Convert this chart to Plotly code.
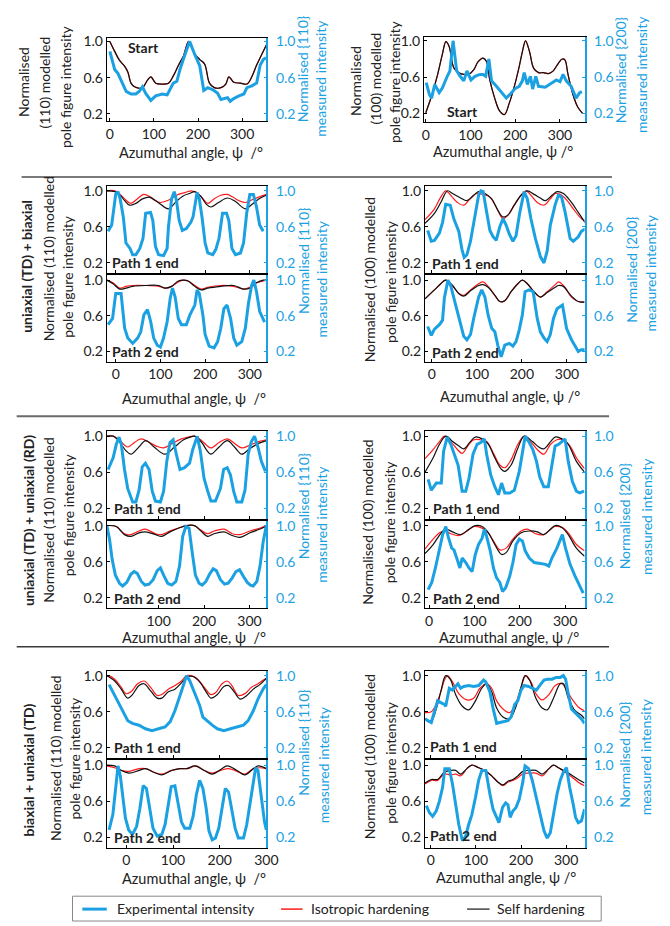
import plotly.graph_objects as go

W, H = 670, 926
BLUE = '#1BA1E2'
RED = '#FF1A1A'
BLACK = '#111111'
FONT = 'Lato'
TXT = '#222222'

# ---------------- data: (angle deg, normalised intensity) ----------------
# Row 1 - starting texture
A_iso = [(0,1.0),(11,0.89),(22,0.79),(33,0.73),(41,0.66),(48,0.54),(56,0.50),(74,0.49),(85,0.57),(93,0.61),(104,0.54),(119,0.53),(133,0.54),(144,0.62),(156,0.74),(167,0.84),(179,1.0),(193,0.86),(204,0.80),(215,0.75),(226,0.54),(237,0.49),(252,0.49),(263,0.53),(270,0.61),(281,0.55),(296,0.54),(311,0.53),(322,0.61),(333,0.74),(344,0.85),(355,0.96)]
A_self = [(0,1.0),(11,0.89),(22,0.79),(33,0.73),(41,0.66),(48,0.54),(56,0.50),(74,0.49),(85,0.57),(93,0.61),(104,0.54),(119,0.53),(133,0.54),(144,0.62),(156,0.74),(167,0.84),(179,1.0),(193,0.86),(204,0.80),(215,0.75),(226,0.54),(237,0.49),(252,0.49),(263,0.53),(270,0.61),(281,0.55),(296,0.54),(311,0.53),(322,0.61),(333,0.74),(344,0.85),(355,0.96)]
A_exp = [(0,0.89),(11,0.69),(18,0.65),(26,0.56),(37,0.45),(48,0.42),(59,0.42),(67,0.45),(74,0.50),(81,0.43),(93,0.35),(104,0.40),(119,0.42),(130,0.41),(137,0.47),(144,0.54),(152,0.56),(159,0.69),(170,0.85),(181,1.0),(193,0.85),(204,0.73),(213,0.46),(222,0.49),(233,0.47),(244,0.43),(252,0.36),(259,0.37),(267,0.38),(273,0.34),(281,0.37),(293,0.40),(304,0.42),(311,0.49),(322,0.51),(333,0.54),(341,0.74),(348,0.80),(354,0.82)]

B_iso = [(0,0.21),(12,0.38),(26,0.62),(37,0.85),(45,0.99),(52,0.94),(63,0.70),(74,0.65),(85,0.63),(96,0.63),(107,0.68),(117,0.77),(128,0.81),(136,0.77),(143,0.57),(154,0.37),(165,0.23),(176,0.19),(187,0.32),(198,0.50),(209,0.72),(216,0.88),(223,1.0),(232,0.88),(241,0.70),(252,0.65),(263,0.65),(274,0.64),(285,0.67),(296,0.75),(305,0.80),(311,0.79),(318,0.63),(329,0.41),(340,0.27),(351,0.20)]
B_self = [(0,0.21),(12,0.38),(26,0.62),(37,0.85),(45,0.99),(52,0.94),(63,0.70),(74,0.65),(85,0.63),(96,0.63),(107,0.68),(117,0.77),(128,0.81),(136,0.77),(143,0.57),(154,0.37),(165,0.23),(176,0.19),(187,0.32),(198,0.50),(209,0.72),(216,0.88),(223,1.0),(232,0.88),(241,0.70),(252,0.65),(263,0.65),(274,0.64),(285,0.67),(296,0.75),(305,0.80),(311,0.79),(318,0.63),(329,0.41),(340,0.27),(351,0.20)]
B_exp = [(1,0.54),(8,0.41),(13,0.37),(20,0.52),(30,0.43),(37,0.48),(48,0.61),(54,0.67),(61,1.0),(69,0.67),(77,0.61),(85,0.56),(92,0.67),(101,0.57),(110,0.61),(121,0.63),(128,0.63),(134,0.61),(141,0.80),(147,0.56),(158,0.50),(169,0.43),(180,0.37),(190,0.42),(201,0.48),(209,0.50),(216,0.56),(220,0.65),(227,0.52),(234,0.61),(239,0.47),(246,0.61),(252,0.50),(267,0.49),(282,0.54),(292,0.57),(300,0.55),(307,0.63),(314,0.56),(325,0.50),(336,0.37),(344,0.43),(349,0.44)]

# Row 2 - uniaxial (TD) + biaxial
C_iso = [(-20,1.0),(-2,1.0),(10,0.96),(20,0.91),(34,0.86),(48,0.91),(63,0.96),(78,0.93),(89,0.89),(100,0.87),(115,0.89),(130,0.93),(140,0.96),(155,0.98),(169,1.0),(180,0.98),(192,0.93),(206,0.86),(220,0.91),(235,0.95),(249,0.96),(262,0.93),(276,0.89),(290,0.87),(305,0.90),(320,0.93),(337,0.96)]
C_self = [(-20,1.0),(-2,0.99),(10,0.95),(20,0.89),(31,0.84),(45,0.86),(60,0.91),(75,0.93),(95,0.87),(118,0.80),(135,0.88),(150,0.94),(165,0.97),(177,0.99),(190,0.94),(203,0.85),(213,0.82),(230,0.87),(250,0.92),(268,0.88),(290,0.80),(305,0.85),(320,0.91),(337,0.95)]
C_exp = [(-17,0.55),(-9,0.62),(0,0.96),(5,0.99),(10,0.91),(17,0.71),(23,0.42),(32,0.36),(38,0.29),(45,0.29),(54,0.36),(61,0.47),(67,0.75),(78,0.76),(83,0.67),(89,0.38),(96,0.29),(107,0.28),(115,0.36),(118,0.60),(125,0.91),(131,0.99),(136,0.89),(142,0.67),(149,0.56),(158,0.58),(168,0.65),(173,0.71),(182,0.98),(187,0.91),(193,0.71),(200,0.42),(206,0.31),(217,0.29),(224,0.35),(231,0.47),(239,0.75),(248,0.75),(253,0.67),(260,0.36),(268,0.29),(279,0.31),(286,0.42),(293,0.75),(300,0.96),(308,0.96),(315,0.82),(322,0.62),(330,0.55)]

D_iso = [(-20,1.0),(-6,0.97),(9,0.91),(23,0.93),(38,0.94),(67,0.94),(96,0.93),(111,0.91),(125,0.93),(140,0.98),(151,1.0),(162,0.99),(177,0.94),(191,0.90),(206,0.92),(235,0.94),(264,0.93),(286,0.90),(300,0.92),(315,0.97),(330,0.99),(337,1.0)]
D_self = [(-20,1.0),(-6,0.96),(9,0.90),(23,0.91),(38,0.93),(67,0.94),(96,0.94),(111,0.91),(125,0.93),(140,0.99),(151,1.0),(162,0.99),(177,0.93),(191,0.89),(206,0.91),(235,0.93),(264,0.94),(286,0.90),(300,0.91),(315,0.97),(330,1.0),(337,1.0)]
D_exp = [(-17,0.50),(-7,0.57),(0,0.85),(12,0.85),(20,0.46),(27,0.35),(38,0.29),(49,0.35),(56,0.42),(63,0.61),(71,0.67),(78,0.54),(85,0.35),(93,0.27),(100,0.25),(107,0.35),(115,0.53),(122,0.80),(127,0.91),(133,0.81),(140,0.57),(147,0.50),(158,0.50),(166,0.61),(177,0.72),(182,0.89),(187,0.85),(195,0.61),(200,0.39),(209,0.26),(220,0.24),(228,0.31),(235,0.46),(242,0.68),(249,0.72),(257,0.57),(264,0.35),(271,0.27),(282,0.31),(290,0.46),(297,0.74),(304,0.94),(309,1.0),(315,0.87),(322,0.65),(333,0.53)]

E_iso = [(-15,0.68),(6,0.80),(20,0.93),(31,1.0),(42,0.95),(57,0.87),(71,0.84),(85,0.91),(100,0.97),(114,0.96),(129,0.93),(143,0.82),(158,0.69),(169,0.73),(183,0.84),(198,0.95),(209,1.0),(220,0.95),(234,0.87),(249,0.84),(263,0.91),(274,0.97),(285,0.96),(299,0.90),(314,0.80),(332,0.69),(341,0.67)]
E_self = [(-15,0.64),(6,0.75),(20,0.87),(35,1.0),(46,0.97),(64,0.92),(78,0.89),(93,0.95),(104,0.99),(118,0.97),(133,0.91),(147,0.78),(158,0.71),(169,0.73),(183,0.84),(198,0.95),(212,1.0),(227,0.96),(241,0.92),(252,0.89),(267,0.95),(278,0.99),(292,0.97),(307,0.89),(325,0.76),(341,0.64)]
E_exp = [(-9,0.56),(-1,0.44),(6,0.45),(17,0.53),(24,0.65),(31,0.85),(41,0.84),(49,0.69),(60,0.55),(67,0.35),(72,0.26),(78,0.29),(86,0.44),(93,0.65),(104,0.95),(109,1.0),(114,0.99),(122,0.76),(129,0.56),(136,0.49),(143,0.45),(151,0.60),(158,0.69),(165,0.62),(172,0.52),(180,0.44),(187,0.50),(195,0.75),(205,0.99),(212,0.91),(220,0.69),(230,0.47),(241,0.27),(249,0.20),(256,0.33),(263,0.62),(274,0.85),(281,0.95),(288,0.93),(296,0.76),(307,0.47),(314,0.44),(325,0.49),(332,0.55),(341,0.58)]

F_iso = [(-15,0.79),(6,0.89),(20,0.96),(31,1.0),(46,0.94),(60,0.85),(71,0.83),(86,0.89),(104,0.96),(114,0.98),(125,0.93),(140,0.83),(151,0.76),(162,0.77),(176,0.87),(191,0.96),(201,1.0),(212,0.96),(227,0.87),(241,0.81),(256,0.87),(274,0.95),(281,0.98),(292,0.94),(310,0.81),(325,0.76),(339,0.76)]
F_self = [(-15,0.79),(6,0.89),(20,0.96),(31,1.0),(46,0.94),(60,0.85),(71,0.82),(86,0.88),(104,0.94),(114,0.95),(125,0.92),(140,0.83),(151,0.76),(162,0.77),(176,0.87),(191,0.96),(201,1.0),(212,0.96),(227,0.87),(241,0.81),(256,0.86),(274,0.92),(281,0.94),(292,0.93),(310,0.82),(325,0.76),(339,0.75)]
F_exp = [(-9,0.48),(-1,0.38),(6,0.45),(17,0.50),(24,0.55),(28,0.80),(36,1.0),(42,0.94),(49,0.80),(57,0.65),(64,0.50),(71,0.37),(78,0.33),(86,0.39),(93,0.57),(104,0.81),(111,0.89),(118,0.81),(125,0.61),(133,0.46),(140,0.42),(147,0.26),(154,0.14),(162,0.27),(172,0.29),(180,0.26),(187,0.31),(194,0.44),(201,0.61),(207,0.87),(216,0.89),(225,0.87),(234,0.57),(241,0.42),(249,0.35),(256,0.31),(263,0.39),(270,0.57),(278,0.68),(285,0.70),(290,0.72),(299,0.46),(310,0.33),(317,0.27),(325,0.20),(332,0.22),(341,0.22)]

# Row 3 - uniaxial (TD) + uniaxial (RD)
G_iso = [(-14,1.0),(0,1.0),(15,0.95),(32,0.88),(47,0.93),(61,0.97),(80,0.93),(95,0.89),(111,0.87),(130,0.92),(150,0.97),(165,0.99),(179,1.0),(195,0.95),(215,0.87),(233,0.93),(251,0.97),(267,0.92),(283,0.87),(300,0.90),(320,0.94),(337,0.96)]
G_self = [(-14,1.0),(0,1.0),(15,0.93),(28,0.84),(39,0.80),(55,0.87),(72,0.95),(90,0.88),(114,0.80),(135,0.88),(155,0.96),(170,0.99),(179,1.0),(195,0.93),(205,0.85),(215,0.80),(233,0.88),(251,0.95),(267,0.88),(283,0.80),(300,0.86),(320,0.92),(337,0.95)]
G_exp = [(-11,0.63),(0,0.76),(7,0.91),(13,0.99),(18,0.91),(25,0.63),(32,0.42),(43,0.27),(50,0.27),(57,0.40),(64,0.66),(71,0.70),(79,0.63),(86,0.39),(93,0.28),(104,0.27),(111,0.39),(118,0.72),(125,0.93),(132,0.96),(139,0.80),(147,0.63),(157,0.65),(168,0.70),(175,0.85),(185,1.0),(192,0.83),(200,0.53),(208,0.39),(215,0.28),(225,0.28),(236,0.42),(243,0.63),(251,0.65),(258,0.57),(265,0.39),(272,0.27),(283,0.27),(290,0.40),(297,0.80),(304,0.94),(311,1.0),(319,0.87),(326,0.72),(335,0.61)]

H_iso = [(-14,1.0),(7,0.99),(25,0.91),(39,0.90),(57,0.94),(71,0.96),(93,0.91),(107,0.90),(125,0.94),(143,0.97),(161,1.0),(179,1.0),(193,0.95),(208,0.91),(222,0.94),(244,0.96),(262,0.91),(279,0.90),(301,0.94),(322,0.97),(337,1.0)]
H_self = [(-14,1.0),(7,0.99),(25,0.90),(39,0.88),(57,0.92),(71,0.93),(93,0.90),(107,0.88),(125,0.93),(143,0.97),(161,1.0),(179,1.0),(193,0.94),(208,0.88),(222,0.91),(244,0.93),(262,0.89),(279,0.87),(301,0.92),(322,0.96),(337,0.99)]
H_exp = [(-14,1.0),(-8,0.85),(-2,0.62),(5,0.45),(14,0.36),(21,0.33),(30,0.37),(39,0.46),(46,0.49),(53,0.47),(62,0.38),(70,0.34),(79,0.35),(88,0.40),(97,0.50),(104,0.53),(111,0.45),(120,0.36),(129,0.34),(138,0.38),(146,0.55),(153,0.88),(160,0.99),(167,0.97),(174,0.70),(181,0.45),(189,0.36),(196,0.34),(204,0.38),(212,0.46),(220,0.52),(227,0.50),(236,0.40),(245,0.35),(253,0.36),(262,0.42),(270,0.49),(278,0.51),(286,0.44),(295,0.37),(302,0.34),(308,0.33),(316,0.38),(323,0.55),(330,0.82),(337,1.0)]

I_iso = [(-9,0.75),(9,0.85),(23,0.94),(34,1.0),(48,0.94),(63,0.85),(73,0.81),(88,0.91),(99,0.96),(113,0.96),(127,0.94),(142,0.81),(156,0.68),(167,0.65),(181,0.74),(196,0.91),(210,1.0),(224,0.94),(239,0.85),(253,0.80),(268,0.91),(282,0.96),(296,0.96),(311,0.89),(325,0.76),(343,0.64)]
I_self = [(-9,0.60),(9,0.76),(23,0.91),(37,1.0),(52,0.94),(66,0.89),(77,0.86),(91,0.94),(102,0.99),(117,0.97),(131,0.91),(145,0.76),(160,0.63),(167,0.61),(181,0.68),(196,0.87),(210,1.0),(228,0.94),(242,0.88),(253,0.86),(268,0.94),(278,0.99),(293,0.97),(307,0.91),(325,0.72),(343,0.60)]
I_exp = [(-2,0.52),(5,0.40),(16,0.48),(27,0.48),(32,0.83),(40,0.99),(48,0.91),(55,0.80),(64,0.68),(73,0.39),(81,0.39),(88,0.53),(97,0.80),(106,0.91),(114,0.93),(122,0.97),(127,0.80),(136,0.57),(145,0.44),(153,0.35),(160,0.48),(167,0.37),(178,0.37),(188,0.40),(199,0.61),(212,1.0),(221,0.93),(229,0.85),(237,0.72),(244,0.55),(253,0.44),(263,0.44),(271,0.68),(278,0.89),(286,0.91),(294,0.94),(300,0.97),(307,0.72),(316,0.50),(325,0.39),(332,0.37),(342,0.39)]

J_iso = [(-9,0.74),(9,0.85),(23,0.92),(34,0.94),(48,0.91),(66,0.89),(84,0.94),(99,0.99),(113,0.98),(127,0.94),(142,0.83),(156,0.73),(170,0.75),(185,0.85),(203,0.94),(217,0.96),(235,0.91),(253,0.90),(268,0.96),(278,0.99),(293,0.98),(307,0.92),(325,0.79),(343,0.72)]
J_self = [(-9,0.69),(9,0.79),(27,0.92),(37,0.96),(52,0.93),(70,0.90),(88,0.96),(102,1.0),(117,0.99),(131,0.92),(145,0.79),(160,0.68),(170,0.70),(185,0.83),(203,0.92),(221,0.94),(239,0.93),(253,0.90),(268,0.96),(278,1.0),(293,0.98),(307,0.90),(325,0.75),(343,0.66)]
J_exp = [(-2,0.29),(6,0.37),(14,0.53),(23,0.72),(30,0.90),(37,0.99),(42,0.88),(50,0.75),(55,0.73),(63,0.61),(68,0.53),(73,0.64),(81,0.59),(88,0.53),(95,0.49),(102,0.68),(109,0.79),(117,0.86),(122,0.96),(127,0.88),(135,0.72),(142,0.53),(149,0.42),(156,0.37),(162,0.27),(169,0.31),(178,0.44),(185,0.59),(192,0.79),(199,0.85),(206,0.83),(212,0.72),(221,0.64),(232,0.59),(246,0.58),(257,0.57),(264,0.55),(271,0.64),(282,0.75),(289,0.85),(294,0.90),(301,0.75),(311,0.57),(322,0.44),(330,0.35),(340,0.25)]

# Row 4 - biaxial + uniaxial (TD)
K_iso = [(-42,1.0),(-39,1.0),(-25,0.96),(-11,0.87),(-1,0.80),(10,0.82),(24,0.91),(38,0.94),(52,0.87),(66,0.78),(76,0.79),(90,0.85),(104,0.89),(118,0.94),(129,1.0),(139,1.0),(153,0.96),(167,0.87),(181,0.79),(191,0.81),(205,0.91),(216,0.94),(226,0.89),(240,0.78),(254,0.80),(268,0.87),(282,0.91),(296,0.96),(300,0.97)]
K_self = [(-42,1.0),(-39,0.99),(-25,0.94),(-11,0.85),(3,0.75),(13,0.79),(27,0.89),(38,0.91),(52,0.83),(66,0.75),(76,0.75),(90,0.82),(104,0.85),(118,0.92),(132,0.99),(143,0.99),(157,0.93),(171,0.82),(181,0.75),(195,0.79),(209,0.88),(219,0.89),(231,0.82),(244,0.74),(258,0.78),(272,0.85),(286,0.90),(298,0.96),(300,0.97)]
K_exp = [(-37,0.90),(-29,0.82),(-18,0.71),(-8,0.60),(3,0.50),(13,0.47),(27,0.45),(41,0.41),(55,0.39),(69,0.41),(83,0.43),(94,0.49),(104,0.61),(115,0.78),(124,0.94),(129,1.0),(136,0.94),(146,0.82),(157,0.67),(164,0.54),(174,0.49),(184,0.45),(195,0.41),(209,0.39),(223,0.41),(237,0.43),(251,0.45),(261,0.50),(272,0.61),(282,0.74),(293,0.85),(300,0.90)]

L_iso = [(-42,0.99),(-25,0.97),(-11,0.94),(6,0.93),(27,0.96),(41,0.96),(59,0.92),(76,0.90),(97,0.94),(115,0.96),(132,0.96),(150,0.99),(167,0.94),(184,0.91),(202,0.94),(219,0.96),(237,0.93),(254,0.90),(272,0.96),(286,0.97),(300,0.96)]
L_self = [(-42,1.0),(-25,0.99),(-11,0.94),(6,0.91),(27,0.94),(41,0.96),(59,0.92),(76,0.89),(97,0.94),(115,0.96),(129,0.96),(147,0.99),(167,0.94),(184,0.90),(202,0.95),(216,0.99),(237,0.94),(254,0.89),(272,0.96),(283,0.99),(300,0.96)]
L_exp = [(-37,0.28),(-29,0.45),(-23,0.74),(-18,0.99),(-13,0.88),(-8,0.67),(-2,0.41),(5,0.28),(13,0.23),(22,0.32),(29,0.52),(36,0.77),(43,0.74),(50,0.52),(57,0.30),(66,0.21),(76,0.23),(83,0.34),(90,0.56),(96,0.76),(104,0.77),(111,0.59),(118,0.37),(125,0.30),(136,0.30),(143,0.43),(150,0.67),(157,0.83),(164,0.74),(171,0.52),(177,0.27),(184,0.17),(191,0.19),(198,0.30),(205,0.52),(212,0.74),(219,0.70),(226,0.52),(233,0.30),(240,0.19),(251,0.19),(258,0.34),(265,0.56),(272,0.81),(277,0.97),(282,0.94),(289,0.67),(296,0.37),(300,0.28)]

M_iso = [(-13,0.59),(1,0.60),(12,0.68),(22,0.82),(31,0.96),(37,1.0),(48,0.93),(62,0.80),(80,0.73),(95,0.75),(109,0.86),(124,0.91),(135,0.86),(146,0.72),(160,0.63),(175,0.59),(189,0.70),(200,0.87),(211,1.0),(222,0.93),(233,0.80),(247,0.73),(262,0.79),(276,0.89),(291,0.91),(301,0.84),(316,0.72),(330,0.64),(341,0.61)]
M_self = [(-13,0.52),(1,0.50),(12,0.63),(22,0.82),(33,1.0),(43,0.96),(55,0.79),(70,0.66),(84,0.62),(99,0.72),(113,0.86),(124,0.91),(135,0.82),(146,0.64),(160,0.54),(175,0.52),(189,0.66),(200,0.87),(209,1.0),(219,0.95),(233,0.75),(247,0.64),(258,0.62),(272,0.75),(287,0.91),(294,0.91),(305,0.75),(320,0.61),(334,0.56),(341,0.52)]
M_exp = [(-12,0.52),(-7,0.50),(1,0.48),(8,0.61),(15,0.72),(22,0.70),(30,0.68),(33,0.66),(41,0.86),(48,0.84),(55,0.88),(60,0.91),(66,0.86),(73,0.88),(84,0.89),(95,0.88),(106,0.89),(117,0.95),(122,0.93),(131,0.82),(138,0.64),(146,0.47),(153,0.48),(160,0.49),(171,0.50),(178,0.54),(186,0.68),(193,0.72),(200,0.84),(207,0.89),(217,0.88),(225,0.86),(234,0.84),(243,0.90),(251,0.95),(258,0.96),(269,0.96),(278,0.98),(287,0.98),(294,1.0),(299,0.96),(305,0.79),(312,0.63),(320,0.59),(327,0.56),(334,0.52),(341,0.47)]

N_iso = [(-13,0.79),(1,0.83),(15,0.83),(30,0.90),(44,0.89),(55,0.90),(66,0.88),(80,0.96),(91,1.0),(106,0.97),(120,0.94),(135,0.88),(149,0.81),(160,0.77),(171,0.81),(182,0.83),(193,0.86),(204,0.90),(218,0.91),(233,0.91),(247,0.88),(262,0.96),(272,1.0),(283,0.97),(298,0.92),(312,0.87),(327,0.81),(341,0.77)]
N_self = [(-13,0.80),(1,0.84),(15,0.84),(30,0.92),(44,0.94),(55,0.94),(66,0.90),(80,0.96),(91,1.0),(106,0.97),(120,0.94),(135,0.88),(149,0.81),(160,0.78),(171,0.82),(182,0.84),(193,0.88),(204,0.93),(218,0.94),(233,0.94),(247,0.90),(262,0.96),(272,1.0),(283,0.97),(298,0.93),(312,0.89),(327,0.84),(341,0.80)]
N_exp = [(-10,0.55),(-3,0.47),(4,0.43),(12,0.49),(19,0.60),(26,0.75),(31,0.96),(41,0.96),(48,0.79),(55,0.56),(62,0.34),(70,0.16),(77,0.21),(84,0.34),(91,0.45),(99,0.64),(106,0.83),(113,0.94),(122,0.94),(131,0.68),(138,0.51),(146,0.42),(151,0.36),(159,0.53),(166,0.58),(171,0.56),(176,0.42),(182,0.49),(189,0.53),(196,0.62),(204,0.81),(209,0.99),(217,0.96),(225,0.83),(234,0.64),(243,0.42),(251,0.27),(258,0.19),(265,0.25),(272,0.45),(280,0.68),(287,0.83),(294,0.92),(301,0.97),(308,0.75),(316,0.56),(321,0.42),(327,0.36),(334,0.38),(341,0.51)]

# ---------------- layout of panels (pixel geometry) ----------------
SUB_Y = [0.085, 1.055]
panels = [
    ('A', 107, 270, 33, 117, [-7, 355], [0.12, 1.04], [0, 100, 200, 300], True, A_iso, A_self, A_exp),
    ('B', 431, 595, 32, 118, [-4, 355], [0.105, 1.044], [0, 100, 200, 300], True, B_iso, B_self, B_exp),
    ('C', 107, 270, 182, 270, [-20, 337], SUB_Y, [0, 100, 200, 300], False, C_iso, C_self, C_exp),
    ('D', 107, 270, 272, 359, [-20, 337], SUB_Y, [0, 100, 200, 300], True, D_iso, D_self, D_exp),
    ('E', 432, 595, 182, 270, [-15, 339], SUB_Y, [0, 100, 200, 300], False, E_iso, E_self, E_exp),
    ('F', 432, 595, 272, 359, [-15, 339], SUB_Y, [0, 100, 200, 300], True, F_iso, F_self, F_exp),
    ('G', 107, 270, 429, 517, [-14, 337], SUB_Y, [100, 200, 300], False, G_iso, G_self, G_exp),
    ('H', 107, 270, 519, 607, [-14, 337], SUB_Y, [100, 200, 300], True, H_iso, H_self, H_exp),
    ('I', 432, 595, 429, 517, [-9, 343], SUB_Y, [0, 100, 200, 300], False, I_iso, I_self, I_exp),
    ('J', 432, 595, 519, 607, [-9, 343], SUB_Y, [0, 100, 200, 300], True, J_iso, J_self, J_exp),
    ('K', 107, 270, 670, 758, [-42, 300], SUB_Y, [0, 100, 200, 300], False, K_iso, K_self, K_exp),
    ('L', 107, 270, 760, 848, [-42, 300], SUB_Y, [0, 100, 200, 300], True, L_iso, L_self, L_exp),
    ('M', 432, 595, 670, 758, [-13, 341], SUB_Y, [0, 100, 200, 300], False, M_iso, M_self, M_exp),
    ('N', 432, 595, 760, 848, [-13, 341], SUB_Y, [0, 100, 200, 300], True, N_iso, N_self, N_exp),
]

def px(x):
    return x / W

def py(y):
    return 1 - y / H

TICK = 14
fig = go.Figure()
layout = {}
for i, (name, x0, x1, yt, yb, xr, yr, xt, showx, iso, slf, exp) in enumerate(panels):
    xi = i + 1
    yl = 2 * i + 1
    yrt = 2 * i + 2
    xs = 'x' if xi == 1 else f'x{xi}'
    yls = 'y' if yl == 1 else f'y{yl}'
    yrs = f'y{yrt}'
    layout['xaxis' if xi == 1 else f'xaxis{xi}'] = dict(
        domain=[px(x0), px(x1)], range=xr, anchor=yls, tickvals=xt,
        showticklabels=showx, ticks='inside', ticklen=3, tickcolor='black',
        showline=True, linecolor='black', linewidth=1, mirror=True,
        showgrid=False, zeroline=False, tickfont=dict(family=FONT, size=TICK, color=TXT))
    layout['yaxis' if yl == 1 else f'yaxis{yl}'] = dict(
        domain=[py(yb), py(yt)], range=yr, anchor=xs, tickvals=[0.2, 0.6, 1.0],
        ticktext=['0.2', '0.6', '1.0'], ticks='inside', ticklen=3, tickcolor='black',
        showline=True, linecolor='black', linewidth=1, showgrid=False, zeroline=False,
        tickfont=dict(family=FONT, size=TICK, color=TXT))
    layout[f'yaxis{yrt}'] = dict(
        overlaying=yls, side='right', anchor=xs, range=yr, tickvals=[0.2, 0.6, 1.0],
        ticktext=['0.2', '0.6', '1.0'], ticks='inside', ticklen=3, tickcolor=BLUE,
        showline=True, linecolor=BLUE, linewidth=1.5, showgrid=False, zeroline=False,
        ticklabelstandoff=5, tickfont=dict(family=FONT, size=TICK, color=BLUE))
    fig.add_trace(go.Scatter(x=[p[0] for p in iso], y=[p[1] for p in iso], mode='lines',
                             line=dict(color=RED, width=1.2, shape='spline', smoothing=1.0),
                             xaxis=xs, yaxis=yls, showlegend=False, hoverinfo='skip'))
    fig.add_trace(go.Scatter(x=[p[0] for p in slf], y=[p[1] for p in slf], mode='lines',
                             line=dict(color=BLACK, width=1.2, shape='spline', smoothing=1.0),
                             xaxis=xs, yaxis=yls, showlegend=False, hoverinfo='skip'))
    fig.add_trace(go.Scatter(x=[p[0] for p in exp], y=[p[1] for p in exp], mode='lines',
                             line=dict(color=BLUE, width=3),
                             xaxis=xs, yaxis=yrs, showlegend=False, hoverinfo='skip'))

ann = []

def text(x, y, s, size=14, color=TXT, angle=0, bold=False, xanchor='center'):
    if bold:
        s = '<b>' + s + '</b>'
    ann.append(dict(x=px(x), y=py(y), xref='paper', yref='paper', text=s, showarrow=False,
                    textangle=angle, xanchor=xanchor, yanchor='middle',
                    font=dict(family=FONT, size=size, color=color)))

# row 1 axis titles
text(22, 78, 'Normalised', angle=-90)
text(43, 78, '(110) modelled', angle=-90)
text(65, 82, 'pole figure intensity', angle=-90)
text(307, 65, 'Normalised {110}', angle=-90, color=BLUE)
text(325, 74, 'measured intensity', angle=-90, color=BLUE)
text(361, 76, 'Normalised', angle=-90)
text(381, 74, '(100) modelled', angle=-90)
text(401, 77, 'pole figure intensity', angle=-90)
text(632, 66, 'Normalised {200}', angle=-90, color=BLUE)
text(653, 70, 'measured intensity', angle=-90, color=BLUE)

# rows 2-4: (label x,y), left titles, left-panel right titles, right-panel titles
row_titles = [
    dict(lab='uniaxial (TD) + biaxial', lab_xy=(25, 263), l1=(47, 256), l2=(67, 273),
         r1=(308, 258), r2=(326, 276), m1=(375, 277), m2=(396, 278), n1=(643, 267), n2=(662, 270)),
    dict(lab='uniaxial (TD) + uniaxial (RD)', lab_xy=(27, 519), l1=(48, 518), l2=(68, 513),
         r1=(308, 505), r2=(326, 523), m1=(373, 521), m2=(396, 520), n1=(636, 515), n2=(658, 515)),
    dict(lab='biaxial + uniaxial (TD)', lab_xy=(27, 770), l1=(54, 758), l2=(74, 758),
         r1=(308, 743), r2=(328, 765), m1=(375, 757), m2=(396, 762), n1=(635, 755), n2=(657, 757)),
]
for r in row_titles:
    text(*r['lab_xy'], r['lab'], angle=-90, bold=True)
    text(*r['l1'], 'Normalised (110) modelled', angle=-90)
    text(*r['l2'], 'pole figure intensity', angle=-90)
    text(*r['r1'], 'Normalised {110}', angle=-90, color=BLUE)
    text(*r['r2'], 'measured intensity', angle=-90, color=BLUE)
    text(*r['m1'], 'Normalised (100) modelled', angle=-90)
    text(*r['m2'], 'pole figure intensity', angle=-90)
    text(*r['n1'], 'Normalised {200}', angle=-90, color=BLUE)
    text(*r['n2'], 'measured intensity', angle=-90, color=BLUE)

# x titles
for (x, y, s) in [(193, 148, 'Azumuthal angle, ψ  /°'), (512, 147, 'Azumuthal angle, ψ /°'),
                  (196, 396, 'Azumuthal angle, ψ  /°'), (519, 394, 'Azumuthal angle, ψ /°'),
                  (196, 637, 'Azumuthal angle, ψ  /°'), (518, 637, 'Azumuthal angle, ψ /°'),
                  (196, 879, 'Azumuthal angle, ψ  /°'), (515, 878, 'Azumuthal angle, ψ /°')]:
    text(x, y, s, size=14.5)

# in-panel labels
text(145, 43, 'Start', bold=True)
text(470, 107, 'Start', bold=True)
for (x, y, s) in [(110, 259, 'Path 1 end'), (110, 349, 'Path 2 end'),
                  (437, 260, 'Path 1 end'), (437, 350, 'Path 2 end'),
                  (112, 507, 'Path 1 end'), (112, 597, 'Path 2 end'),
                  (438, 507, 'Path 1 end'), (438, 597, 'Path 2 end'),
                  (112, 747, 'Path 1 end'), (112, 838, 'Path 2 end'),
                  (435, 746, 'Path 1 end'), (435, 836, 'Path 2 end')]:
    text(x, y, s, bold=True, xanchor='left')

# legend (drawn manually)
text(115, 909, 'Experimental intensity', xanchor='left')
text(314, 909, 'Isotropic hardening', xanchor='left')
text(504, 909, 'Self hardening', xanchor='left')

shapes = []

def hline(x0, x1, y, color, width):
    shapes.append(dict(type='line', xref='paper', yref='paper', x0=px(x0), x1=px(x1),
                       y0=py(y), y1=py(y), line=dict(color=color, width=width)))

hline(20, 623, 173, '#7a7a7a', 2)
hline(15, 620, 414, '#6a6a6a', 2)
hline(15, 620, 646, '#3a3a3a', 1.5)
shapes.append(dict(type='rect', xref='paper', yref='paper', x0=px(72), x1=px(612),
                   y0=py(922), y1=py(897), line=dict(color='#888888', width=1)))
hline(82, 107, 910, BLUE, 3)
hline(285, 307, 910, RED, 1.5)
hline(475, 498, 910, '#444444', 1.5)

fig.update_layout(**layout)
fig.update_layout(width=W, height=H, margin=dict(l=0, r=0, t=0, b=0),
                  paper_bgcolor='white', plot_bgcolor='white', showlegend=False,
                  annotations=ann, shapes=shapes)
fig.write_html('out.html')
